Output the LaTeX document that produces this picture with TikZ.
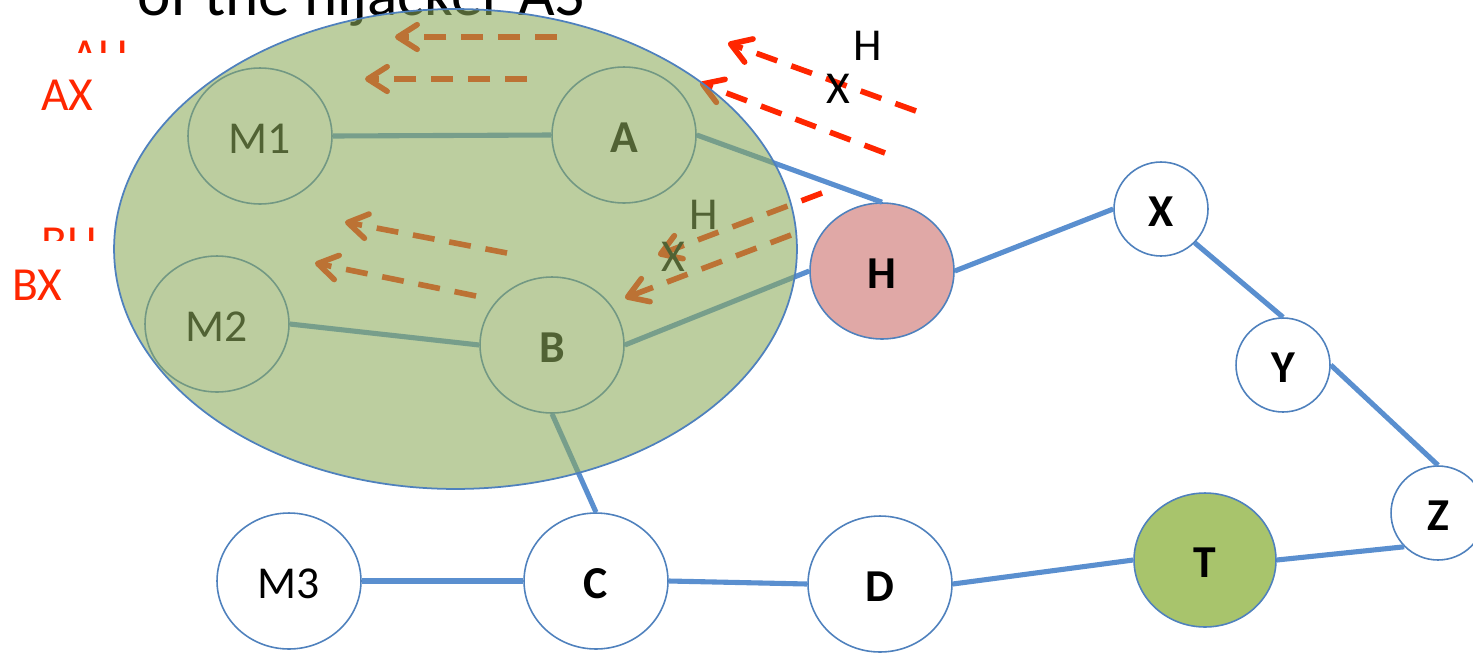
\documentclass[tikz,border=0pt]{standalone}
\usepackage{fontspec}
\setmainfont{Carlito}
\usetikzlibrary{shapes.geometric,arrows.meta}
\definecolor{edgeblue}{HTML}{5A8FCF}
\definecolor{rimblue}{HTML}{4F81BD}
\definecolor{hjred}{HTML}{FF2600}
\definecolor{hjpink}{HTML}{E0A8A6}
\definecolor{tgreen}{HTML}{A8C46C}
\definecolor{asgreen}{HTML}{8CAA5A}
\begin{document}
\begin{tikzpicture}[x=0.02cm,y=-0.02cm,
  asnode/.style={ellipse, draw=rimblue, line width=0.9pt, fill=white, inner sep=0pt,
    text height=20pt, text depth=0pt,
    minimum width=2.88cm, minimum height=2.72cm, font=\fontsize{26}{31}\selectfont},
  boldas/.style={asnode, font=\fontsize{26}{31}\selectfont\bfseries},
  smallas/.style={boldas, minimum width=1.88cm, minimum height=1.88cm},
  link/.style={draw=edgeblue, line width=2.9pt},
  route/.style={draw=hjred, line width=3.2pt, dash pattern=on 12.5pt off 8.5pt,
    -{Straight Barb[length=11pt,width=14pt,round]}},
  redtxt/.style={text=hjred, inner sep=0pt, anchor=base west, font=\fontsize{27}{32}\selectfont},
  pathtxt/.style={inner sep=0pt, font=\fontsize{26}{31}\selectfont}]
\useasboundingbox (0,0) rectangle (1473,653);
\clip (0,0) rectangle (1473,653);

% AS nodes
\node[asnode] (M1) at (260,136) {M1};
\node[boldas] (A) at (624,135) {A};
\node[asnode] (M2) at (217,324) {M2};
\node[boldas] (B) at (552,345) {B};
\node[boldas, fill=hjpink] (H) at (882,271) {H};
\node[smallas] (X) at (1161,209) {X};
\node[smallas] (Y) at (1283,365) {Y};
\node[smallas] (Z) at (1438,513) {Z};
\node[boldas, fill=tgreen, minimum width=2.84cm, minimum height=2.68cm] (T) at (1205,560) {T};
\node[boldas] (D) at (880,584) {D};
\node[boldas] (C) at (596,581) {C};
\node[asnode] (M3) at (289,581) {M3};

% links between ASes
\draw[link] (M1.east) -- (A.west);
\draw[link] (A.east) -- (H.north);
\draw[link] (H.east) -- (X.west);
\draw[link] (X.south east) -- (Y.north);
\draw[link] (Y.east) -- (Z.north);
\draw[link] (Z.south west) -- (T.east);
\draw[link] (T.west) -- (D.east);
\draw[link] (D.west) -- (C.east);
\draw[link] (C.west) -- (M3.east);
\draw[link] (B.south) -- (C.north);
\draw[link] (B.east) -- (H.west);
\draw[link] (M2.east) -- (B.west);

% bogus route announcements
\coordinate (r1t) at (557,37);  \coordinate (r1h) at (395,37);
\coordinate (r2t) at (527,79);  \coordinate (r2h) at (365,79);
\coordinate (r3t) at (916,111); \coordinate (r3h) at (728,43);
\coordinate (r4t) at (885,153); \coordinate (r4h) at (700,83);
\coordinate (r5t) at (822,193); \coordinate (r5h) at (658,255);
\coordinate (r6t) at (791,235); \coordinate (r6h) at (625,298);
\coordinate (r7t) at (507,253); \coordinate (r7h) at (345,222);
\coordinate (r8t) at (476,296); \coordinate (r8h) at (315,263);
\draw[route] (r1t) -- (r1h);
\draw[route] (r2t) -- (r2h);
\draw[route] (r3t) -- (r3h);
\draw[route] (r4t) -- (r4h);
\draw[route] (r5t) -- (r5h);
\draw[route] (r6t) -- (r6h);
\draw[route] (r7t) -- (r7h);
\draw[route] (r8t) -- (r8h);

% AS path labels
\node[pathtxt] (pH1) at (868,46) {H};
\node[pathtxt] (pX1) at (838,89) {X};
\node[pathtxt] (pH2) at (704,215) {H};
\node[pathtxt] (pX2) at (673,257) {X};

% caption and table entries
\node[inner sep=0pt, anchor=base west, font=\fontsize{36}{43}\selectfont] (title) at (137,15) {of the hijacker AS};
\node[redtxt] (AX) at (41,110) {AX};
\node[redtxt] (BX) at (12,300) {BX};
\begin{scope}
  \clip (0,0) rectangle (200,52);
  \node[redtxt] (AH) at (71,71) {AH};
\end{scope}
\begin{scope}
  \clip (0,200) rectangle (200,240);
  \node[redtxt] (BH) at (41,258) {BH};
\end{scope}

% hijacker's sphere of influence
\node[ellipse, inner sep=0pt, minimum width=13.66cm, minimum height=9.6cm,
  fill=asgreen, fill opacity=0.58, draw=rimblue, line width=1pt] (sphere) at (455.5,249) {};
\end{tikzpicture}
\end{document}
